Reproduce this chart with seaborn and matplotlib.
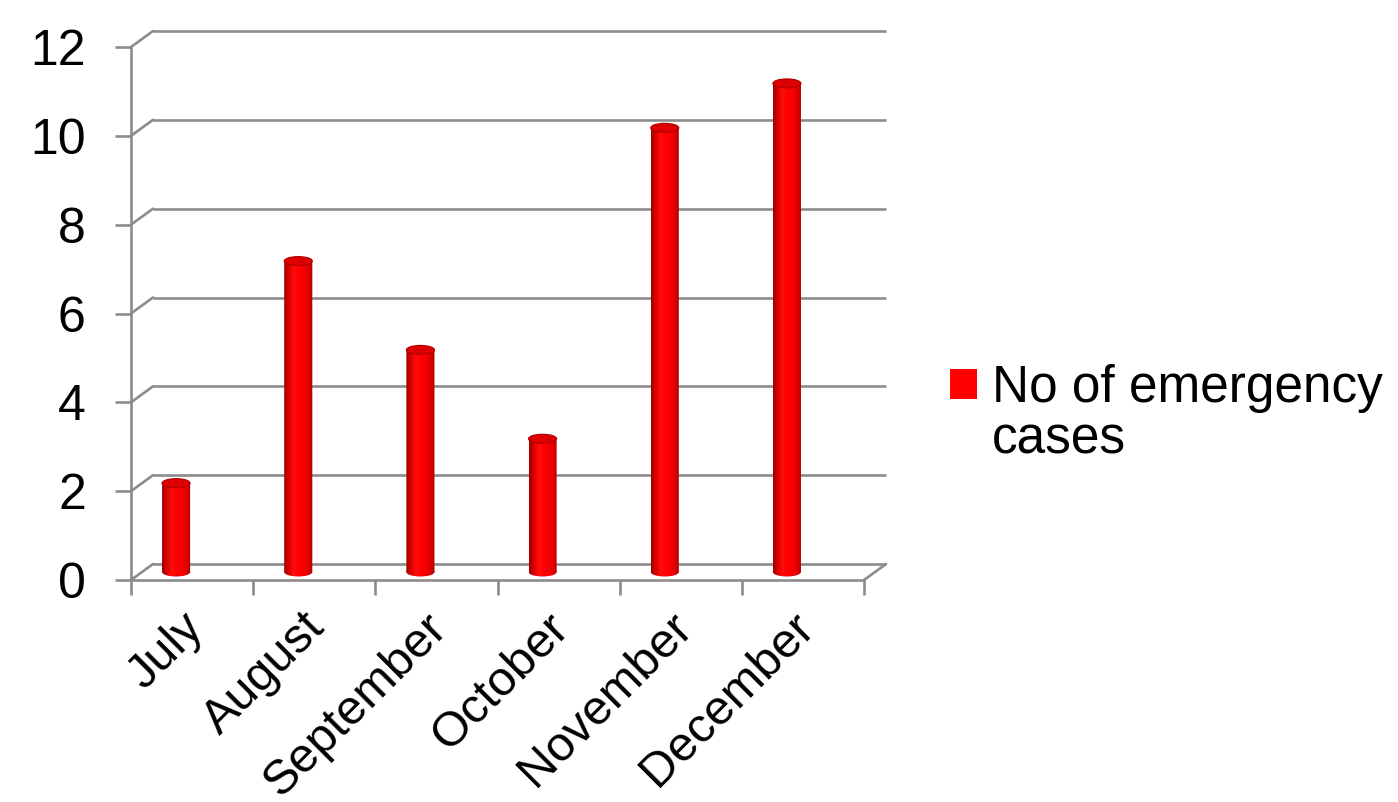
import numpy as np
import pandas as pd
import matplotlib
matplotlib.use("Agg")
import matplotlib.pyplot as plt
import seaborn as sns
from matplotlib.transforms import ScaledTranslation
from matplotlib.patches import Ellipse, Patch
from matplotlib.path import Path

# Data
months = ["July", "August", "September", "October", "November", "December"]
cases = [2, 7, 5, 3, 10, 11]
y_ticks = [0, 2, 4, 6, 8, 10, 12]
legend_lines = ["No of emergency", "cases"]

df = pd.DataFrame({"month": months, "cases": cases})

sns.set_theme(style="white")
plt.rcParams["font.family"] = ["Liberation Sans", "DejaVu Sans"]

W, H, DPI = 1398, 802, 100
fig = plt.figure(figsize=(W / DPI, H / DPI), dpi=DPI)
ax = fig.add_axes([131 / W, (H - 580) / H, (864 - 131) / W, (580 - 47) / H])

GRID = "#8c8c8c"
LW = 1.9
FS = 36

# Bars (cylinder bodies)
sns.barplot(data=df, x="month", y="cases", color="#ff0000", width=0.23,
            ax=ax, saturation=1, zorder=3)
ax.set_xlim(-0.5, len(months) - 0.5)
ax.set_ylim(0, 12)

# offsets for the pseudo-3D look (in inches)
back = ax.transData + ScaledTranslation(22 / DPI, 16 / DPI, fig.dpi_scale_trans)
bar_tr = ax.transData + ScaledTranslation(-16 / DPI, 8 / DPI, fig.dpi_scale_trans)

# back wall gridlines and the left side diagonals
x0, x1 = -0.5, len(months) - 0.5
for yv in y_ticks:
    ax.plot([x0, x1], [yv, yv], color=GRID, lw=LW, transform=back,
            clip_on=False, zorder=1, solid_capstyle="butt")
    ax.annotate("", xy=(x0, yv), xycoords=back, xytext=(x0, yv),
                textcoords="data",
                arrowprops=dict(arrowstyle="-", color=GRID, lw=LW,
                                shrinkA=0, shrinkB=0), zorder=1)
# floor diagonal on the right
ax.annotate("", xy=(x1, 0), xycoords=back, xytext=(x1, 0), textcoords="data",
            arrowprops=dict(arrowstyle="-", color=GRID, lw=LW,
                            shrinkA=0, shrinkB=0), zorder=1)

# cylinder shading: horizontal gradient clipped to each bar
cols = np.array([
    [0.62, 0.00, 0.00],
    [0.85, 0.00, 0.00],
    [1.00, 0.05, 0.05],
    [1.00, 0.00, 0.00],
    [0.97, 0.00, 0.00],
    [0.88, 0.00, 0.00],
    [0.68, 0.00, 0.00],
])
xs = np.linspace(0, 1, 200)
stops = np.linspace(0, 1, len(cols))
grad = np.stack([np.interp(xs, stops, cols[:, k]) for k in range(3)], axis=-1)[None, :, :]

cap_h = 9 / 44.4  # ellipse height in data units
for p in ax.patches:
    p.set_transform(bar_tr)
    p.set_edgecolor("none")
    bx, bw, bh = p.get_x(), p.get_width(), p.get_height()
    im = ax.imshow(grad, extent=[bx, bx + bw, -cap_h, bh], aspect="auto",
                   transform=bar_tr, zorder=3, interpolation="bilinear")
    bottom = Ellipse((bx + bw / 2, 0), bw, cap_h, transform=bar_tr)
    # image clip: body rectangle plus the lower half of the base ellipse
    body = Path.make_compound_path(
        p.get_path().transformed(p.get_patch_transform()),
        bottom.get_path().transformed(bottom.get_patch_transform()))
    im.set_clip_path(body, bar_tr)
    top = Ellipse((bx + bw / 2, bh), bw, cap_h, transform=bar_tr,
                  facecolor="#dd0000", edgecolor="#b00000", lw=0.8, zorder=4)
    ax.add_patch(top)
    p.set_alpha(0)

ax.set_xlim(-0.5, len(months) - 0.5)
ax.set_ylim(0, 12)

# axes styling
for s in ["top", "right"]:
    ax.spines[s].set_visible(False)
for s in ["left", "bottom"]:
    ax.spines[s].set_color(GRID)
    ax.spines[s].set_linewidth(LW)
    ax.spines[s].set_zorder(2)

ax.set_yticks(y_ticks)
ax.set_yticklabels([str(v) for v in y_ticks])
ax.tick_params(axis="y", length=11.5, width=LW, color=GRID, pad=21,
               labelsize=FS, labelcolor="black", left=True)
ax.set_xticks(range(len(months)))
ax.set_xticks(np.arange(-0.5, len(months)), minor=True)
ax.tick_params(axis="x", which="minor", length=11, width=LW, color=GRID,
               bottom=True)
ax.tick_params(axis="x", which="major", length=0, pad=4, labelsize=35,
               labelcolor="black")
ax.set_xticklabels(months, rotation=45, ha="right", va="top",
                   rotation_mode="anchor")
shift = ScaledTranslation(-12 / DPI, -19 / DPI, fig.dpi_scale_trans)
for lab in ax.get_xticklabels():
    lab.set_transform(lab.get_transform() + shift)
ax.set_xlabel("")
ax.set_ylabel("")
ax.grid(False)

leg = fig.legend(handles=[Patch(facecolor="#ff0000", edgecolor="none"),
                          Patch(facecolor="none", edgecolor="none")],
                 labels=legend_lines, loc="upper left",
                 bbox_to_anchor=(950 / W, 1 - 364 / H), frameon=False,
                 fontsize=37, handlelength=0.52, handleheight=0.52,
                 handletextpad=0.3, borderaxespad=0, borderpad=0,
                 labelspacing=0.05, labelcolor="black")

fig.savefig("out.png", dpi=DPI)
